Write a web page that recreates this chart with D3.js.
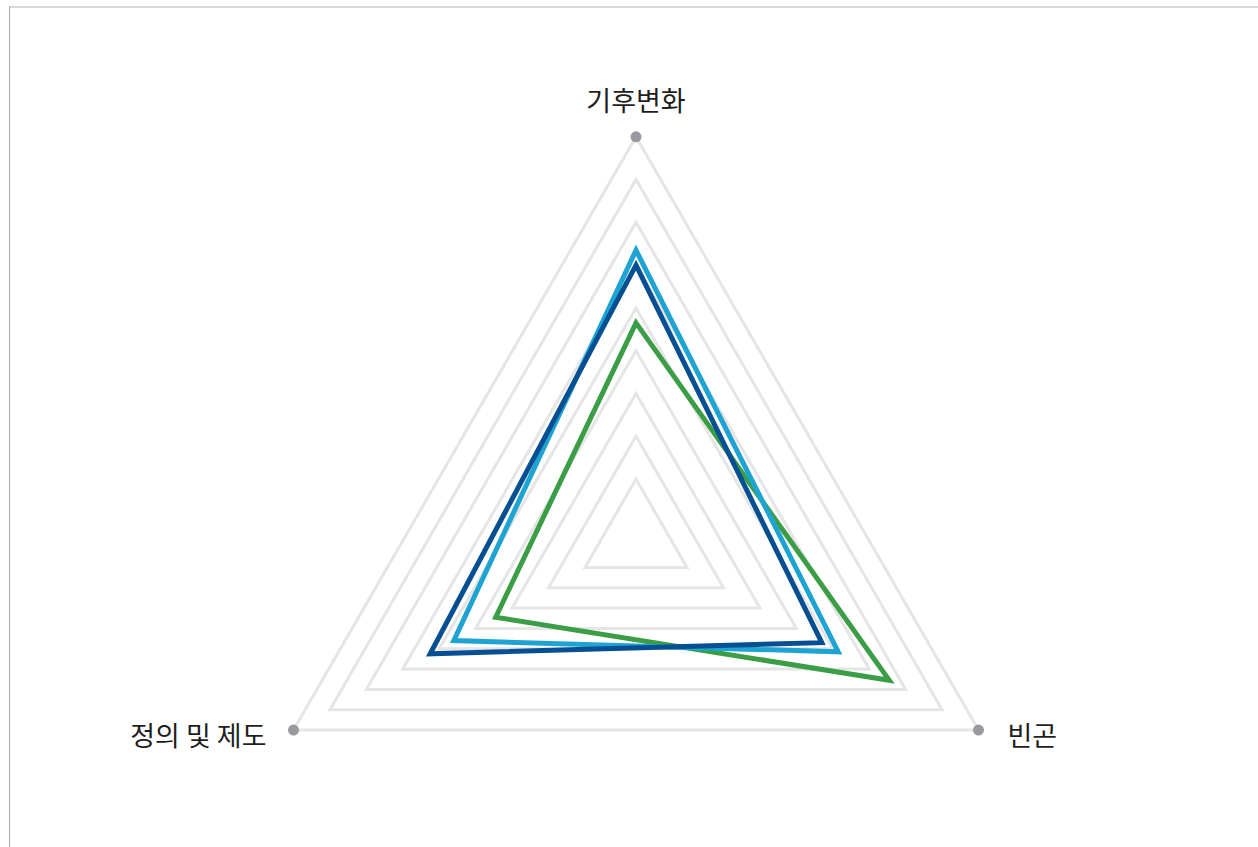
<!DOCTYPE html>
<html><head><meta charset="utf-8">
<script src="https://cdn.jsdelivr.net/npm/d3@7"></script>
<style>
html,body{margin:0;padding:0;background:#fff;}
svg{display:block;}
text{font-family:"Noto Sans CJK KR","Noto Sans",sans-serif;}
</style></head>
<body><svg id="chart" width="1258" height="847"></svg>
<script>
// ---- data ----
const categories = ["기후변화", "빈곤", "정의 및 제도"];
const gridLevels = [1, 2, 3, 4, 5, 6, 7, 8, 9];
const seriesNames = ["A", "B", "C"];
const seriesGreen = [4.65, 6.55, 3.45];
const seriesLightBlue = [6.35, 5.15, 4.6];
const seriesDarkBlue = [6.0, 4.7, 5.25];

// ---- layout ----
const W = 1258, H = 847;
const svg = d3.select("#chart");
const cx = 636, cy = 532.3, R = 395.5;          // outer triangle
const focus = {x: 636, y: 539};                 // scaling origin of the rings
const angleOf = c => categories.indexOf(c) * 120 - 90;
const k = d3.scaleLinear().domain([-0.4, 9]).range([0, 1]);

const outer = categories.map(c => {
  const a = angleOf(c) * Math.PI / 180;
  return {x: cx + R * Math.cos(a), y: cy + R * Math.sin(a)};
});
const pt = (i, v) => {
  const s = k(v);
  return [focus.x + s * (outer[i].x - focus.x), focus.y + s * (outer[i].y - focus.y)];
};

// frame
svg.append("line").attr("x1", 9).attr("x2", W).attr("y1", 7).attr("y2", 7)
  .attr("stroke", "#cccccc").attr("stroke-width", 1.5);
svg.append("line").attr("x1", 9.5).attr("x2", 9.5).attr("y1", 6.5).attr("y2", H)
  .attr("stroke", "#a8a8a8").attr("stroke-width", 1);

const line = d3.line().curve(d3.curveLinearClosed);

// grid rings
svg.append("g").selectAll("path").data(gridLevels).join("path")
  .attr("d", lv => line(categories.map((c, i) => pt(i, lv))))
  .attr("fill", "none").attr("stroke", "#e5e5e5").attr("stroke-width", 3);

// series
const series = [
  {name: seriesNames[0], values: seriesGreen, color: "#3b9e47"},
  {name: seriesNames[1], values: seriesLightBlue, color: "#1ea3d3"},
  {name: seriesNames[2], values: seriesDarkBlue, color: "#054f92"}
];
svg.append("g").selectAll("path").data(series).join("path")
  .attr("d", s => line(s.values.map((v, i) => pt(i, v))))
  .attr("fill", "none").attr("stroke", s => s.color).attr("stroke-width", 5)
  .attr("stroke-linejoin", "miter");

// axis dots
svg.append("g").selectAll("circle").data(outer).join("circle")
  .attr("cx", d => d.x).attr("cy", d => d.y).attr("r", 5.5).attr("fill", "#98989e");

// labels
const lbl = svg.append("g").attr("font-size", 27).attr("fill", "#1e1e1e");
lbl.append("text").attr("x", outer[0].x).attr("y", outer[0].y - 26)
  .attr("text-anchor", "middle").text(categories[0]);
lbl.append("text").attr("x", outer[1].x + 29).attr("y", outer[1].y + 15.5)
  .attr("text-anchor", "start").text(categories[1]);
lbl.append("text").attr("x", outer[2].x - 27).attr("y", outer[2].y + 15.5)
  .attr("text-anchor", "end").text(categories[2]);
</script></body></html>
